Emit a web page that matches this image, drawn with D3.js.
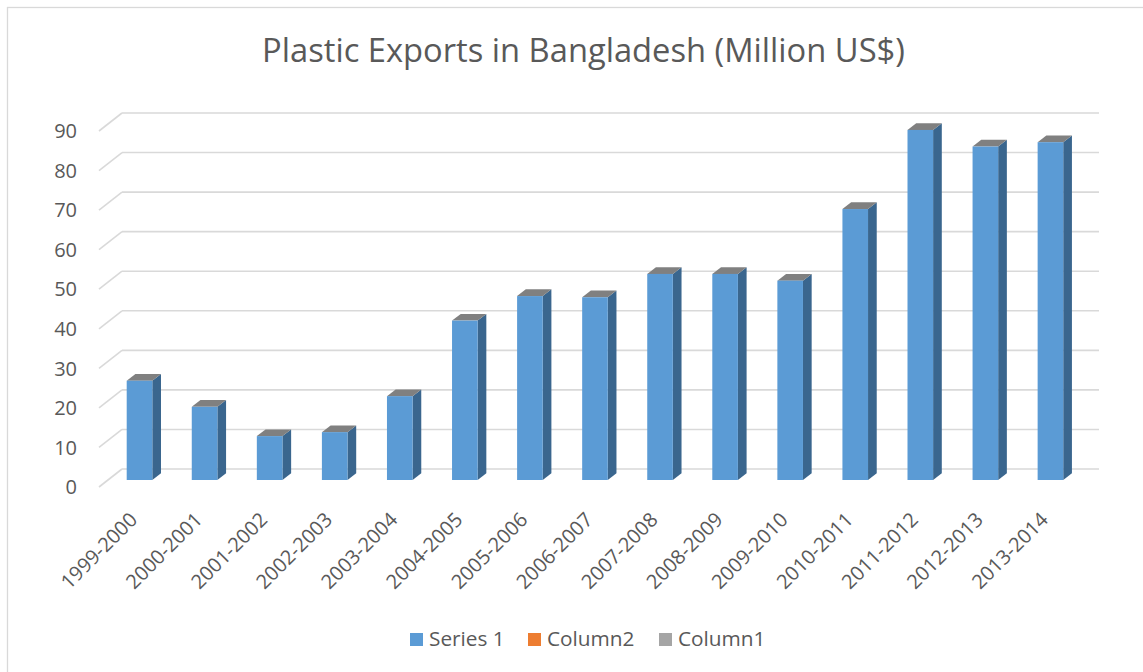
<!DOCTYPE html>
<html>
<head>
<meta charset="utf-8">
<script src="https://cdn.jsdelivr.net/npm/d3@7"></script>
<style>
  html, body { margin: 0; padding: 0; background: #fff; }
  svg { display: block; }
  text { font-family: "Open Sans", "Noto Sans", sans-serif; fill: #595959; }
</style>
</head>
<body>
<svg id="chart" width="1143" height="672"></svg>
<script>
const categories = ["1999-2000","2000-2001","2001-2002","2002-2003","2003-2004","2004-2005","2005-2006","2006-2007","2007-2008","2008-2009","2009-2010","2010-2011","2011-2012","2012-2013","2013-2014"];
const series1 = [25.1, 18.5, 11.1, 12.1, 21.2, 40.3, 46.5, 46.2, 52.1, 52.1, 50.4, 68.5, 88.5, 84.3, 85.4];
const yTicks = [0, 10, 20, 30, 40, 50, 60, 70, 80, 90];
const legendItems = ["Series 1", "Column2", "Column1"];
const legendColors = ["#5B9BD5", "#ED7D31", "#A5A5A5"];
const title = "Plastic Exports in Bangladesh (Million US$)";

const svg = d3.select("#chart");
const W = 1143, H = 672;

// chart area border
svg.append("rect").attr("x", 7.5).attr("y", 7.5).attr("width", W + 10).attr("height", H + 10)
  .attr("fill", "#fff").attr("stroke", "#D9D9D9").attr("stroke-width", 1.3);

// 3D geometry
const wallX0 = 122, wallX1 = 1099;
const floorDX = -23, floorDY = 18;     // front edge of floor relative to back wall
const frontOffY = 11;                  // bar front face relative to back wall
const depthDX = 8.7, depthDY = -6.7;   // bar depth

const y = d3.scaleLinear().domain([0, 90]).range([469, 113]);
const x = d3.scaleBand().domain(categories).range([108, 1084]).paddingInner(0).paddingOuter(0);
const barOff = 18.7, barW = 25.6;

// gridlines: back wall + side diagonal
const grid = svg.append("g");
yTicks.forEach(t => {
  const yy = y(t);
  grid.append("line").attr("x1", wallX0).attr("x2", wallX1).attr("y1", yy).attr("y2", yy)
    .attr("stroke", "#D9D9D9").attr("stroke-width", 1.6);
  grid.append("line").attr("x1", wallX0 + floorDX).attr("y1", yy + floorDY).attr("x2", wallX0).attr("y2", yy)
    .attr("stroke", "#D9D9D9").attr("stroke-width", 1.6);
});

// y axis labels
svg.append("g").selectAll("text").data(yTicks).join("text")
  .attr("x", 77).attr("y", d => y(d) + floorDY)
  .attr("dy", "0.36em").attr("text-anchor", "end")
  .style("font-size", "20px").text(d => d);

// bars
const bars = svg.append("g");
categories.forEach((c, i) => {
  const v = series1[i];
  const x0 = x(c) + barOff, x1 = x0 + barW;
  const yb = y(0) + frontOffY, yt = y(v) + frontOffY;
  bars.append("path")
    .attr("d", `M${x1},${yb} L${x1 + depthDX},${yb + depthDY} L${x1 + depthDX},${yt + depthDY} L${x1},${yt} Z`)
    .attr("fill", "#3A668E");
  bars.append("path")
    .attr("d", `M${x0},${yt} L${x0 + depthDX},${yt + depthDY} L${x1 + depthDX},${yt + depthDY} L${x1},${yt} Z`)
    .attr("fill", "#808080");
  bars.append("rect").attr("x", x0).attr("y", yt).attr("width", barW).attr("height", yb - yt)
    .attr("fill", "#5B9BD5");
});

// x labels
svg.append("g").selectAll("text").data(categories).join("text")
  .attr("transform", d => `translate(${x(d) + barOff + barW / 2 - 1},521) rotate(-45)`)
  .attr("text-anchor", "end")
  .style("font-size", "20px").text(d => d);

// title
svg.append("text").attr("x", 583.5).attr("y", 62.3).attr("text-anchor", "middle")
  .style("font-size", "32.7px").text(title);

// legend
const legendX = [410, 528, 659];
const lg = svg.append("g");
legendItems.forEach((name, i) => {
  lg.append("rect").attr("x", legendX[i]).attr("y", 633).attr("width", 13).attr("height", 13)
    .attr("fill", legendColors[i]);
  lg.append("text").attr("x", legendX[i] + 19).attr("y", 646)
    .style("font-size", "20.8px").text(name);
});
</script>
</body>
</html>
